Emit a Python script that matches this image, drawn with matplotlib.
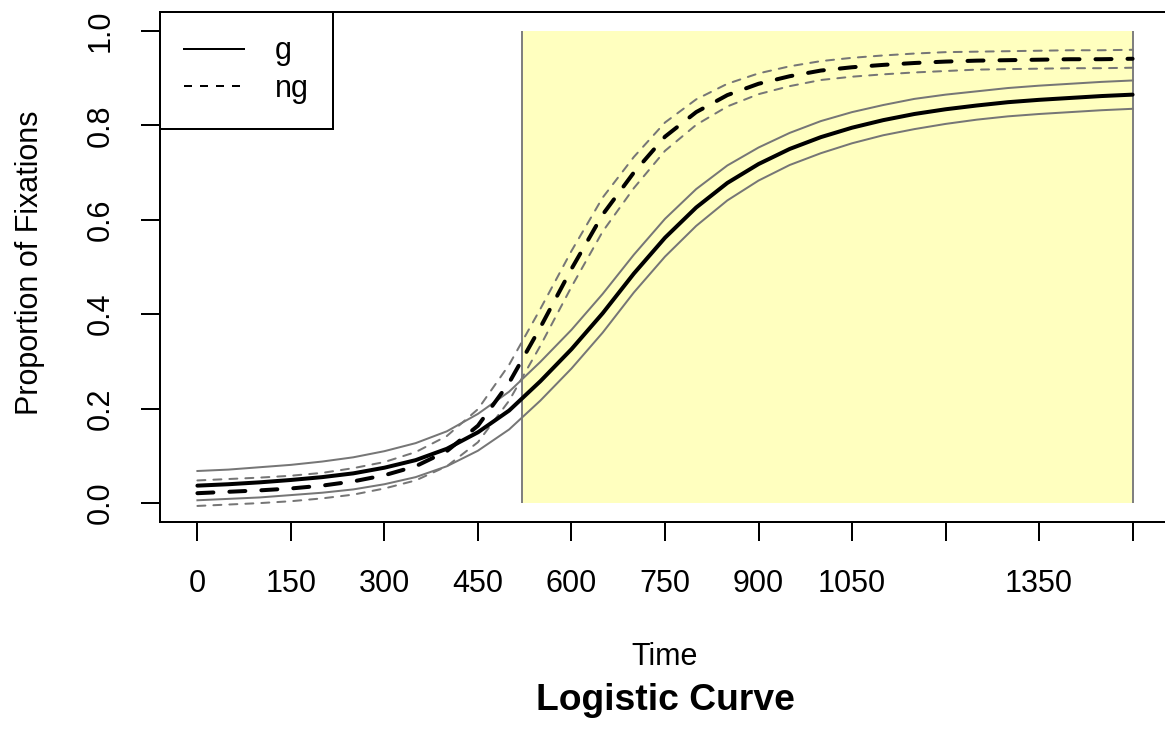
import numpy as np
import matplotlib
matplotlib.use('Agg')
import matplotlib.pyplot as plt
from matplotlib.lines import Line2D
from matplotlib.patches import Rectangle

plt.rcParams['font.family'] = ['Liberation Sans', 'DejaVu Sans']

# fitted proportions every 50 ms, with half-width of the confidence band
time = list(range(0, 1501, 50))
g_fit = [0.037, 0.040, 0.044, 0.049, 0.055, 0.063, 0.075, 0.091, 0.115, 0.150,
         0.196, 0.258, 0.326, 0.402, 0.486, 0.562, 0.626, 0.678, 0.718, 0.750,
         0.775, 0.795, 0.811, 0.824, 0.834, 0.842, 0.849, 0.854, 0.858, 0.862,
         0.865]
g_ci = [0.031, 0.031, 0.032, 0.032, 0.033, 0.034, 0.035, 0.036, 0.037, 0.039,
        0.040, 0.041, 0.041, 0.041, 0.040, 0.040, 0.039, 0.037, 0.035, 0.034,
        0.034, 0.033, 0.032, 0.032, 0.031, 0.030, 0.030, 0.030, 0.030, 0.030,
        0.030]
ng_fit = [0.021, 0.024, 0.027, 0.031, 0.037, 0.046, 0.059, 0.078, 0.110, 0.164,
          0.255, 0.372, 0.496, 0.611, 0.700, 0.776, 0.828, 0.864, 0.888, 0.904,
          0.916, 0.923, 0.928, 0.932, 0.935, 0.937, 0.938, 0.939, 0.940, 0.940,
          0.941]
ng_ci = [0.027, 0.027, 0.027, 0.027, 0.027, 0.028, 0.028, 0.030, 0.032, 0.035,
         0.038, 0.039, 0.038, 0.036, 0.033, 0.030, 0.027, 0.024, 0.022, 0.021,
         0.020, 0.020, 0.020, 0.020, 0.020, 0.019, 0.019, 0.019, 0.019, 0.019,
         0.019]

# analysis window
window = [520, 1500]

xticks = [0, 150, 300, 450, 600, 750, 900, 1050, 1200, 1350, 1500]
xtick_labels = ['0', '150', '300', '450', '600', '750', '900', '1050', '', '1350', '']
yticks = [0.0, 0.2, 0.4, 0.6, 0.8, 1.0]
ytick_labels = ['0.0', '0.2', '0.4', '0.6', '0.8', '1.0']

t = np.array(time)
g_fit, g_ci = np.array(g_fit), np.array(g_ci)
ng_fit, ng_ci = np.array(ng_fit), np.array(ng_ci)

FS = 22
LW = 1.44
band_col = '#767676'

fig = plt.figure(figsize=(11.65, 7.29), dpi=100)
ax = fig.add_axes([160 / 1165, 1 - 522 / 729, 1010 / 1165, 510 / 729])

ax.add_patch(Rectangle((window[0], 0), window[1] - window[0], 1,
                       facecolor='#FFFFBF', edgecolor='none', zorder=0))
ax.vlines(window, 0, 1, color='#808080', lw=LW, zorder=1)

dash = (0, (4, 4))
ax.plot(t, g_fit + g_ci, color=band_col, lw=LW, zorder=2)
ax.plot(t, g_fit - g_ci, color=band_col, lw=LW, zorder=2)
ax.plot(t, ng_fit + ng_ci, color=band_col, lw=LW, ls=dash,
        dash_capstyle='round', zorder=2)
ax.plot(t, ng_fit - ng_ci, color=band_col, lw=LW, ls=dash,
        dash_capstyle='round', zorder=2)
ax.plot(t, g_fit, color='black', lw=2 * LW, solid_capstyle='round', zorder=3)
ax.plot(t, ng_fit, color='black', lw=2 * LW, ls=dash,
        dash_capstyle='round', zorder=3)

ax.set_xlim(-60, 1560)
ax.set_ylim(-0.04, 1.04)
ax.set_xticks(xticks)
ax.set_xticklabels(xtick_labels)
ax.set_yticks(yticks)
ax.set_yticklabels(ytick_labels, rotation=90, va='center')
ax.tick_params(axis='both', length=13.7, width=LW, labelsize=FS, color='black')
ax.tick_params(axis='x', pad=20)
ax.tick_params(axis='y', pad=18.5)
for sp in ax.spines.values():
    sp.set_linewidth(LW)

handles = [Line2D([], [], color='black', lw=LW),
           Line2D([], [], color='black', lw=LW, ls=dash)]
leg = ax.legend(handles, ['g', 'ng'], loc='upper left', bbox_to_anchor=(0, 1),
                borderaxespad=0, fontsize=FS, frameon=True, fancybox=False,
                framealpha=1, edgecolor='black', borderpad=0.8,
                handlelength=1.95, handletextpad=1.0, labelspacing=0.25)
leg.get_frame().set_linewidth(LW)

fig.text(665 / 1165, 1 - 657 / 729, 'Time', fontsize=FS, ha='center', va='center')
fig.text(665 / 1165, 1 - 700 / 729, 'Logistic Curve', fontsize=26.8,
         fontweight='bold', ha='center', va='center')
fig.text(30 / 1165, 1 - 263 / 729, 'Proportion of Fixations', fontsize=FS,
         rotation=90, ha='center', va='center')

fig.savefig('out.png', dpi=100)
